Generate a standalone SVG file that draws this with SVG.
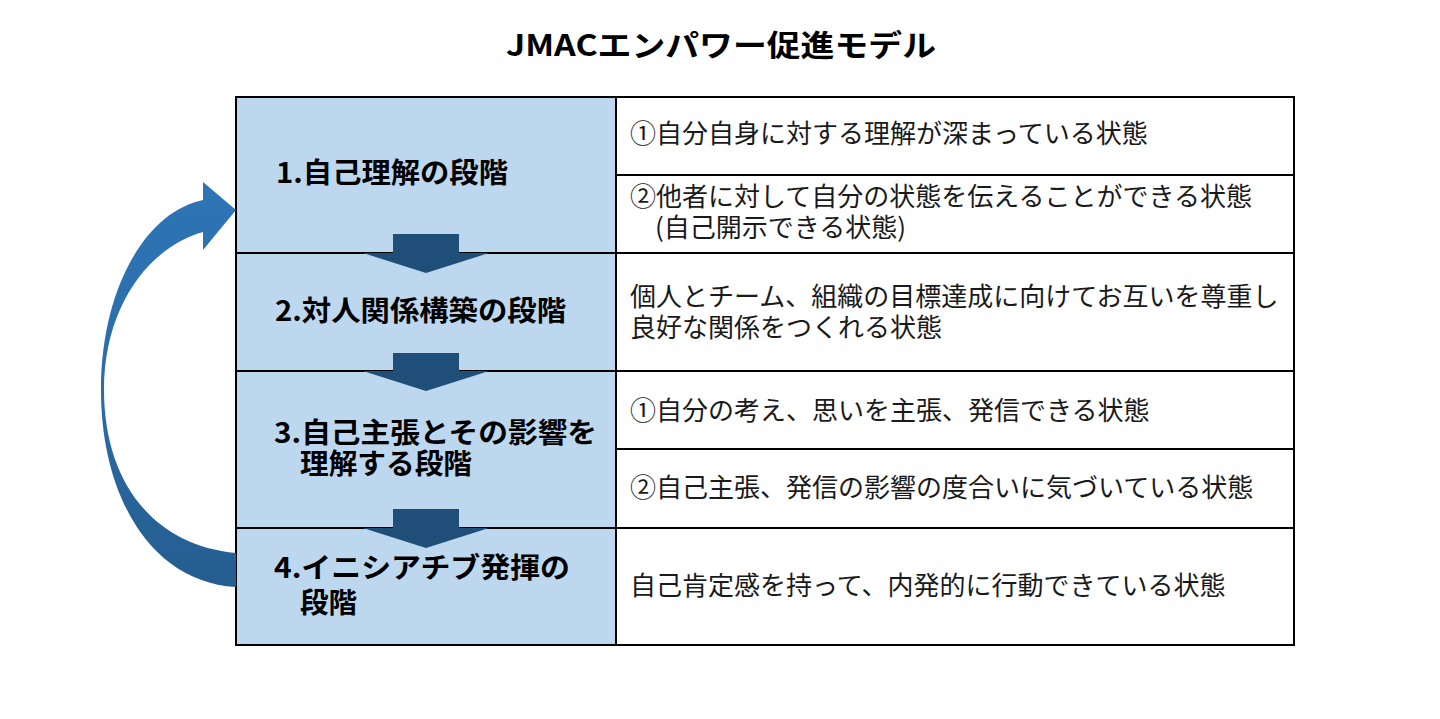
<svg xmlns="http://www.w3.org/2000/svg" width="1440" height="719" viewBox="0 0 1440 719">
<defs>
<linearGradient id="gArc" x1="0" y1="0" x2="0" y2="1">
<stop offset="0" stop-color="#2E75B6"/>
<stop offset="0.45" stop-color="#2B6DAA"/>
<stop offset="1" stop-color="#255D8F"/>
</linearGradient>
</defs>
<style>
.title{font-family:"Noto Sans CJK JP","Noto Sans",sans-serif;font-weight:bold;font-size:30px;fill:#000}
.stage{font-family:"Noto Sans CJK JP","Noto Sans",sans-serif;font-weight:bold;font-size:28px;fill:#000}
.desc{font-family:"Noto Sans CJK JP","Noto Sans",sans-serif;font-size:26px;fill:#1a1a1a}
.cell{fill:#BDD7EE}
.grid{stroke:#000;stroke-width:2;fill:none}
.down{fill:#1F4E79}
</style>
<rect width="1440" height="719" fill="#fff"/>
<text class="title" x="721" y="56" text-anchor="middle" textLength="430" lengthAdjust="spacingAndGlyphs">JMACエンパワー促進モデル</text>

<g id="table">
<rect class="cell" x="236" y="97" width="380" height="548"/>
<rect x="236" y="97" width="1058" height="548" class="grid"/>
<line class="grid" x1="616" y1="97" x2="616" y2="645"/>
<line class="grid" x1="236" y1="253" x2="1294" y2="253"/>
<line class="grid" x1="236" y1="371" x2="1294" y2="371"/>
<line class="grid" x1="236" y1="528" x2="1294" y2="528"/>
<line class="grid" x1="616" y1="175" x2="1294" y2="175"/>
<line class="grid" x1="616" y1="449" x2="1294" y2="449"/>
</g>

<g id="stage1"><text class="stage" x="276" y="183" textLength="232" lengthAdjust="spacingAndGlyphs">1.自己理解の段階</text></g>
<g id="stage2"><text class="stage" x="275" y="321" textLength="291" lengthAdjust="spacingAndGlyphs">2.対人関係構築の段階</text></g>
<g id="stage3"><text class="stage" x="274" y="443" textLength="323" lengthAdjust="spacingAndGlyphs">3.自己主張とその影響を</text><text class="stage" x="300" y="474" textLength="172" lengthAdjust="spacingAndGlyphs">理解する段階</text></g>
<g id="stage4"><text class="stage" x="274" y="578" textLength="296" lengthAdjust="spacingAndGlyphs">4.イニシアチブ発揮の</text><text class="stage" x="300" y="613" textLength="57" lengthAdjust="spacingAndGlyphs">段階</text></g>

<g id="desc1a"><text class="desc" x="630" y="143">①自分自身に対する理解が深まっている状態</text></g>
<g id="desc1b"><text class="desc" x="630" y="206">②他者に対して自分の状態を伝えることができる状態</text><text class="desc" x="655" y="237">(自己開示できる状態)</text></g>
<g id="desc2"><text class="desc" x="630" y="306">個人とチーム、組織の目標達成に向けてお互いを尊重し</text><text class="desc" x="630" y="337">良好な関係をつくれる状態</text></g>
<g id="desc3a"><text class="desc" x="630" y="420">①自分の考え、思いを主張、発信できる状態</text></g>
<g id="desc3b"><text class="desc" x="630" y="497">②自己主張、発信の影響の度合いに気づいている状態</text></g>
<g id="desc4"><text class="desc" x="630" y="595">自己肯定感を持って、内発的に行動できている状態</text></g>

<g id="connectors">
<path class="down" d="M393,234 H459 V253 H489 L426,273 L363,253 H393 Z"/>
<path class="down" d="M393,353 H459 V371 H489 L426,391 L363,371 H393 Z"/>
<path class="down" d="M393,509 H459 V528 H489 L426,548 L363,528 H393 Z"/>
<path fill="url(#gArc)" d="M236,587 C150,582 101,495 101,390 C101,290 145,212 203,200 L203,182 L236,210 L203,250 L203,232 C150,247 104,305 104,390 C104,478 150,545 236,553 Z"/>
</g>
</svg>
